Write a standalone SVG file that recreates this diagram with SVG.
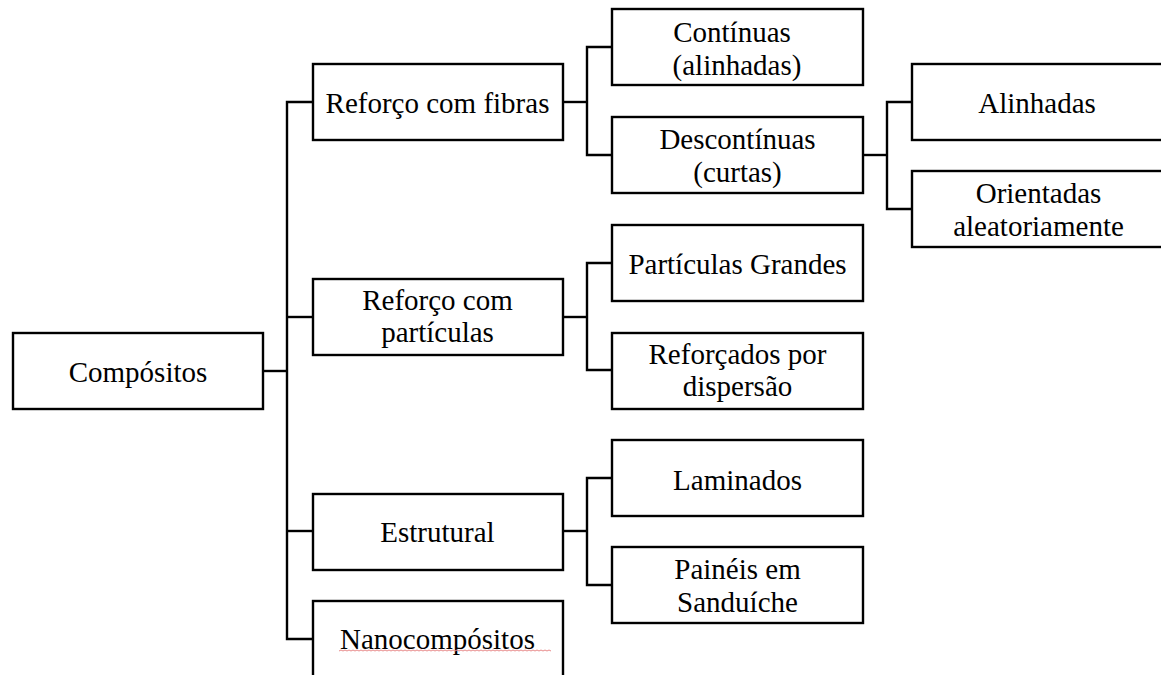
<svg xmlns="http://www.w3.org/2000/svg" width="1161" height="675" viewBox="0 0 1161 675">
  <style>
    .box { fill: #ffffff; stroke: #000000; stroke-width: 2.4; }
    .wire { fill: none; stroke: #000000; stroke-width: 2.4; stroke-linejoin: miter; }
    .lbl { font-family: "Liberation Serif", "Times New Roman", serif; font-size: 29px; fill: #000000; text-anchor: middle; }
    .squiggle { fill: none; stroke: #e88a8a; stroke-width: 1; }
  </style>
  <rect width="1161" height="675" fill="#ffffff"/>

  <!-- tree connectors -->
  <g id="connectors">
    <path class="wire" d="M263 371 H287"/>
    <path class="wire" d="M313 102 H287 V639 H313"/>
    <path class="wire" d="M287 317 H313"/>
    <path class="wire" d="M287 531 H313"/>

    <path class="wire" d="M563 102 H587"/>
    <path class="wire" d="M612 47 H587 V155 H612"/>

    <path class="wire" d="M863 155 H887"/>
    <path class="wire" d="M912 102 H887 V209 H912"/>

    <path class="wire" d="M563 317 H587"/>
    <path class="wire" d="M612 263 H587 V370 H612"/>

    <path class="wire" d="M563 531 H587"/>
    <path class="wire" d="M612 478 H587 V585 H612"/>
  </g>

  <g id="compositos">
    <rect class="box" x="13" y="333" width="250" height="76"/>
    <text class="lbl" x="138" y="381.5">Compósitos</text>
  </g>

  <g id="reforco-fibras">
    <rect class="box" x="313" y="64" width="250" height="76"/>
    <text class="lbl" x="437.5" y="112.5">Reforço com fibras</text>
  </g>

  <g id="continuas">
    <rect class="box" x="612" y="9" width="251" height="76"/>
    <text class="lbl" x="732" y="42">Contínuas</text>
    <text class="lbl" x="737" y="74.5">(alinhadas)</text>
  </g>

  <g id="descontinuas">
    <rect class="box" x="612" y="117" width="251" height="76"/>
    <text class="lbl" x="737.5" y="149">Descontínuas</text>
    <text class="lbl" x="737.5" y="181.5">(curtas)</text>
  </g>

  <g id="alinhadas">
    <rect class="box" x="912" y="64" width="251" height="76"/>
    <text class="lbl" x="1037" y="112.5">Alinhadas</text>
  </g>

  <g id="orientadas">
    <rect class="box" x="912" y="171" width="251" height="76"/>
    <text class="lbl" x="1038.5" y="203">Orientadas</text>
    <text class="lbl" x="1038.5" y="235.5">aleatoriamente</text>
  </g>

  <g id="reforco-particulas">
    <rect class="box" x="313" y="279" width="250" height="76"/>
    <text class="lbl" x="437.5" y="309.5">Reforço com</text>
    <text class="lbl" x="437.5" y="342">partículas</text>
  </g>

  <g id="particulas-grandes">
    <rect class="box" x="612" y="225" width="251" height="76"/>
    <text class="lbl" x="737.5" y="274">Partículas Grandes</text>
  </g>

  <g id="reforcados-dispersao">
    <rect class="box" x="612" y="333" width="251" height="76"/>
    <text class="lbl" x="737.5" y="363.5">Reforçados por</text>
    <text class="lbl" x="737.5" y="396">dispersão</text>
  </g>

  <g id="estrutural">
    <rect class="box" x="313" y="494" width="250" height="76"/>
    <text class="lbl" x="437.5" y="542">Estrutural</text>
  </g>

  <g id="laminados">
    <rect class="box" x="612" y="440" width="251" height="76"/>
    <text class="lbl" x="737.5" y="489.5">Laminados</text>
  </g>

  <g id="paineis-sanduiche">
    <rect class="box" x="612" y="547" width="251" height="76"/>
    <text class="lbl" x="737.5" y="578.5">Painéis em</text>
    <text class="lbl" x="737.5" y="611.5">Sanduíche</text>
  </g>

  <g id="nanocompositos">
    <rect class="box" x="313" y="601" width="250" height="78"/>
    <text class="lbl" x="437.5" y="648.5">Nanocompósitos</text>
    <!-- spell-check style wavy underline -->
    <path class="squiggle" d="M339 651 l2 -1 l2 1 l2 -1 l2 1 l2 -1 l2 1 l2 -1 l2 1 l2 -1 l2 1 l2 -1 l2 1 l2 -1 l2 1 l2 -1 l2 1 l2 -1 l2 1 l2 -1 l2 1 l2 -1 l2 1 l2 -1 l2 1 l2 -1 l2 1 l2 -1 l2 1 l2 -1 l2 1 l2 -1 l2 1 l2 -1 l2 1 l2 -1 l2 1 l2 -1 l2 1 l2 -1 l2 1 l2 -1 l2 1 l2 -1 l2 1 l2 -1 l2 1 l2 -1 l2 1 l2 -1 l2 1 l2 -1 l2 1 l2 -1 l2 1 l2 -1 l2 1 l2 -1 l2 1 l2 -1 l2 1 l2 -1 l2 1 l2 -1 l2 1 l2 -1 l2 1 l2 -1 l2 1 l2 -1 l2 1 l2 -1 l2 1 l2 -1 l2 1 l2 -1 l2 1 l2 -1 l2 1 l2 -1 l2 1 l2 -1 l2 1 l2 -1 l2 1 l2 -1 l2 1 l2 -1 l2 1 l2 -1 l2 1 l2 -1 l2 1 l2 -1 l2 1 l2 -1 l2 1 l2 -1 l2 1 l2 -1 l2 1 l2 -1 l2 1 l2 -1 l2 1 l2 -1 l2 1"/>
  </g>
</svg>
